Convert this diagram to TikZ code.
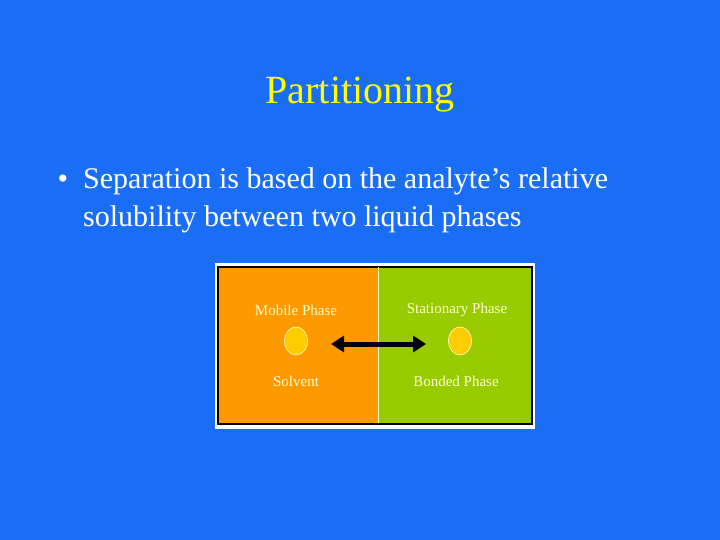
\documentclass[tikz,border=0pt]{standalone}
\usepackage{fontspec}
\setmainfont{Liberation Serif}
\usetikzlibrary{arrows.meta,shapes.geometric}
\definecolor{bg}{HTML}{1A6EF5}
\definecolor{ttl}{HTML}{FFFF00}
\definecolor{org}{HTML}{FF9900}
\definecolor{grn}{HTML}{99CC00}
\definecolor{cream}{HTML}{FFFFCC}
\definecolor{dot}{HTML}{FFCC00}
\tikzset{lbl/.style={text=cream,font=\fontsize{15}{18}\selectfont,inner sep=0pt},
dotn/.style={ellipse,fill=dot,draw=cream,line width=0.6pt,minimum width=23pt,minimum height=28pt,inner sep=0pt}}
\begin{document}
\begin{tikzpicture}[x=1pt,y=-1pt]
\fill[bg] (0,0) rectangle (720,540);
\useasboundingbox (0,0) rectangle (720,540);
\node[text=ttl,font=\fontsize{40}{48}\selectfont] (title) at (360,95) {Partitioning};
\node[text=white,font=\fontsize{30}{38}\selectfont,anchor=west] (b) at (54,182) {•};
\node[text=white,font=\fontsize{30}{38}\selectfont,anchor=west,align=left,inner sep=0pt] (t) at (83,200) {Separation is based on the analyte’s relative\\solubility between two liquid phases};
\fill[white] (215,263) rectangle (535,429);
\fill[org] (218,267) rectangle (378,423);
\fill[grn] (379,267) rectangle (531,423);
\draw[black,line width=1.5pt] (218,267) rectangle (532,424);
\draw[cream,line width=0.6pt] (378.5,267) -- (378.5,423);
\node[lbl] (mp) at (296,310) {Mobile Phase};
\node[lbl] (sp) at (457,310) {Stationary Phase};
\node[lbl] (sv) at (296,381) {Solvent};
\node[lbl] (bp) at (456,381) {Bonded Phase};
\node[dotn] (d1) at (296,341) {};
\node[dotn] (d2) at (460,341) {};
\coordinate (a1) at (331,344);
\coordinate (a2) at (426,344);
\draw[line width=5pt,{Triangle[length=13pt,width=16pt]}-{Triangle[length=13pt,width=16pt]}] (a1) -- (a2);
\end{tikzpicture}
\end{document}
